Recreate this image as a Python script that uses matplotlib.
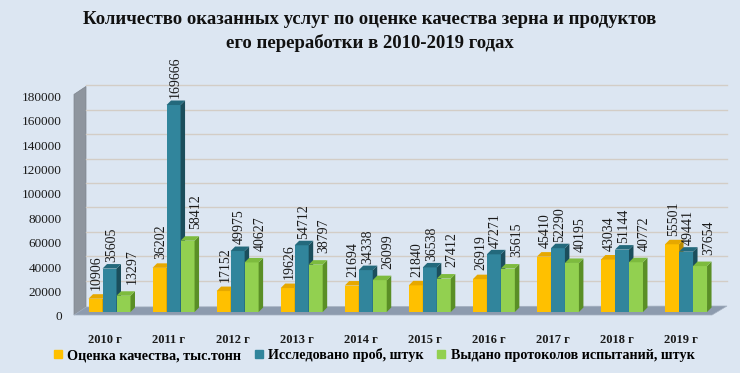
import matplotlib
matplotlib.use('Agg')
import matplotlib.pyplot as plt
import matplotlib.transforms as mtransforms
from matplotlib.patches import Polygon
from matplotlib.lines import Line2D
import numpy as np

# ---------------- data ----------------
years = ['2010 г', '2011 г', '2012 г', '2013 г', '2014 г',
         '2015 г', '2016 г', '2017 г', '2018 г', '2019 г']
quality = [10906, 36202, 17152, 19626, 21694, 21840, 26919, 45410, 43034, 55501]
samples = [35605, 169666, 49975, 54712, 34338, 36538, 47271, 52290, 51144, 49441]
protocols = [13297, 58412, 40627, 38797, 26099, 27412, 35615, 40195, 40772, 37654]
series_names = ['Оценка качества, тыс.тонн', 'Исследовано проб, штук',
                'Выдано протоколов испытаний, штук']
yticks = list(range(0, 180001, 20000))
title_lines = ['Количество оказанных услуг по оценке качества зерна и продуктов',
               'его переработки в 2010-2019 годах']

# ---------------- style ----------------
BG = '#DCE6F2'
front_cols = ['#FFC000', '#31859C', '#92D050']
top_cols = ['#E6A800', '#23697C', '#7DBB3E']
side_cols = ['#B98A00', '#1B4E5C', '#5A8F26']
label_offsets = [(-0.8, 3), (-0.3, 1.5), (4.5, 5)]  # points, per series
SERIF = 'Liberation Serif'

W, H, DPI = 740, 373, 100
fig = plt.figure(figsize=(W / DPI, H / DPI), dpi=DPI, facecolor=BG)

# layout in pixels
px_per_cat = 64.06
x0_px = 109.5
base_px = 312
px_per_unit = 1.22 / 1000
ax_l, ax_r, ax_t, ax_b = 70, 735, 5, 332
ax = fig.add_axes([ax_l / W, 1 - ax_b / H, (ax_r - ax_l) / W, (ax_b - ax_t) / H])
ax.set_facecolor('none')
ax.set_xlim((ax_l - x0_px) / px_per_cat, (ax_r - x0_px) / px_per_cat)
ax.set_ylim((base_px - ax_b) / px_per_unit, (base_px - ax_t) / px_per_unit)


def dxd(p):
    return p / px_per_cat


def dyd(p):
    return p / px_per_unit


def xpx(p):
    return (p - x0_px) / px_per_cat


# wall and floor
xw0 = xpx(74)
xf1 = xpx(712)
wall = Polygon([(xw0, dyd(-3)), (xw0, yticks[-1] - dyd(2)),
                (xw0 + dxd(12), yticks[-1] + dyd(6)), (xw0 + dxd(12), dyd(5))],
               closed=True, facecolor='#8E959E', edgecolor='#7E858E', lw=0.5, zorder=1)
ax.add_patch(wall)
floor = Polygon([(xw0, dyd(-3)), (xf1, dyd(-3)), (xf1 + dxd(15), dyd(6)),
                 (xw0 + dxd(12), dyd(5))],
                closed=True, facecolor='#8D9BAE', edgecolor='#A4B0C0', lw=0.5, zorder=1.5)
ax.add_patch(floor)
for v in yticks[1:]:
    ax.plot([xw0 + dxd(12), xf1 + dxd(15)], [v + dyd(7), v + dyd(7)],
            color='#D3CDC6', lw=1.0, zorder=1.2)

# bars
series = [quality, samples, protocols]
bw = dxd(14)
ddx, ddy = dxd(4.5), dyd(4.5)
x = np.arange(len(years))
for i in range(len(years)):
    for j, vals in enumerate(series):
        v = vals[i]
        xc = x[i] + (j - 1) * bw
        z = 3 + j * 0.1
        ax.bar(xc, v, width=bw, color=front_cols[j], zorder=z, linewidth=0)
        xl, xr = xc - bw / 2, xc + bw / 2
        side = Polygon([(xr, 0), (xr + ddx, ddy), (xr + ddx, v + ddy), (xr, v)],
                       closed=True, facecolor=side_cols[j], lw=0, zorder=z)
        top = Polygon([(xl, v), (xl + ddx, v + ddy), (xr + ddx, v + ddy), (xr, v)],
                      closed=True, facecolor=top_cols[j], lw=0, zorder=z)
        ax.add_patch(side)
        ax.add_patch(top)
        ax.annotate(str(v), xy=(xc + ddx / 2, v + ddy), xytext=label_offsets[j],
                    textcoords='offset points', rotation=90, ha='center',
                    va='bottom', fontsize=10, family=SERIF, color='#1a1a1a',
                    zorder=6, annotation_clip=False)

# axes ticks
for s in ax.spines.values():
    s.set_visible(False)
ax.set_yticks(yticks)
ax.set_yticklabels([str(t) for t in yticks], fontsize=9.5, family=SERIF, color='#1a1a1a')
ax.set_xticks(x)
ax.set_xticklabels(years, fontsize=9, family=SERIF, fontweight='bold', color='#1a1a1a')
ax.tick_params(axis='both', length=0)
ax.tick_params(axis='y', pad=5.8)
ax.tick_params(axis='x', pad=1.6)
off_y = mtransforms.ScaledTranslation(0, -4 / DPI, fig.dpi_scale_trans)
for lab in ax.get_yticklabels():
    lab.set_transform(lab.get_transform() + off_y)
off_x = mtransforms.ScaledTranslation(-5 / DPI, 0, fig.dpi_scale_trans)
for lab in ax.get_xticklabels():
    lab.set_transform(lab.get_transform() + off_x)

# title
fig.text(0.5, 1 - 20 / H, title_lines[0], ha='center', va='center',
         fontsize=13.5, fontweight='bold', family=SERIF, color='#111111')
fig.text(0.5, 1 - 43 / H, title_lines[1], ha='center', va='center',
         fontsize=13.5, fontweight='bold', family=SERIF, color='#111111')

# legend
handles = [Line2D([], [], marker='s', linestyle='none', markersize=6,
                  color=c) for c in front_cols]
fig.legend(handles, series_names, loc='center', bbox_to_anchor=(0.505, 1 - 355 / H),
           ncol=3, frameon=False, handlelength=0.7, handletextpad=0.3,
           columnspacing=0.9, borderpad=0.1,
           prop=dict(family=SERIF, weight='bold', size=10.2))

fig.savefig('out.png', dpi=DPI, facecolor=BG)
